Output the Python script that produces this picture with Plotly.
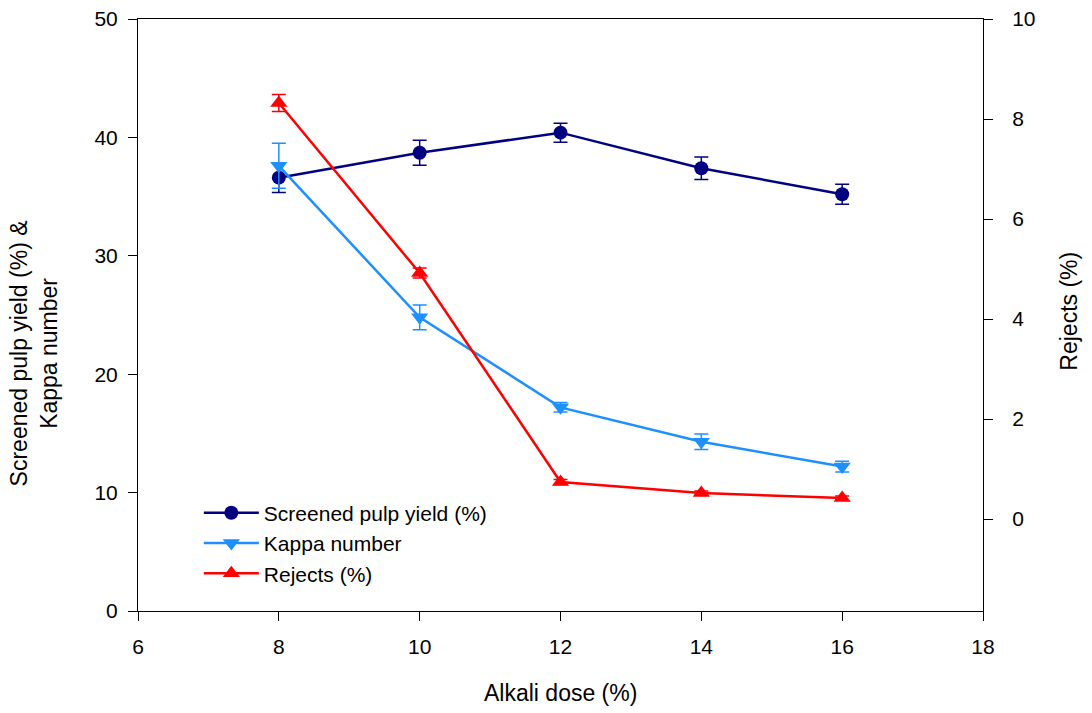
import plotly.graph_objects as go

# Alkali dose (%) for each cook
alkali = [8, 10, 12, 14, 16]

# Screened pulp yield (%) with standard deviations
yield_pct = [36.6, 38.7, 40.4, 37.4, 35.2]
yield_err = [1.25, 1.05, 0.8, 0.95, 0.85]

# Kappa number with standard deviations
kappa = [37.6, 24.8, 17.2, 14.3, 12.2]
kappa_err = [1.9, 1.05, 0.4, 0.65, 0.45]

# Rejects (%) with standard deviations (right axis)
rejects = [8.32, 4.92, 0.74, 0.52, 0.42]
rejects_err = [0.17, 0.1, 0.05, 0.04, 0.04]

FONT = "Liberation Sans, Arial, sans-serif"
NAVY = "#000080"
BLUE = "#1E8FFF"
RED = "#FF0000"

fig = go.Figure()

fig.add_trace(go.Scatter(
    x=alkali, y=yield_pct, name="Screened pulp yield (%)",
    mode="lines+markers",
    line=dict(color=NAVY, width=2.5),
    marker=dict(symbol="circle", size=14, color=NAVY),
    error_y=dict(type="data", array=yield_err, color=NAVY, thickness=1.5, width=7),
))
fig.add_trace(go.Scatter(
    x=alkali, y=kappa, name="Kappa number",
    mode="lines+markers",
    line=dict(color=BLUE, width=2.5),
    marker=dict(symbol="triangle-down", size=15, color=BLUE),
    error_y=dict(type="data", array=kappa_err, color=BLUE, thickness=1.5, width=7),
))
fig.add_trace(go.Scatter(
    x=alkali, y=rejects, name="Rejects (%)", yaxis="y2",
    mode="lines+markers",
    line=dict(color=RED, width=2.5),
    marker=dict(symbol="triangle-up", size=15, color=RED),
    error_y=dict(type="data", array=rejects_err, color=RED, thickness=1.5, width=7),
))

axis_common = dict(
    showgrid=False, zeroline=False, showline=True, linecolor="black", linewidth=1,
    ticks="outside", ticklen=9, tickcolor="black", tickwidth=1, automargin=False,
    tickfont=dict(family=FONT, size=21, color="black"),
)

fig.update_layout(
    width=1092, height=713,
    margin=dict(l=138, r=109, t=19, b=102, autoexpand=False),
    paper_bgcolor="white", plot_bgcolor="white",
    font=dict(family=FONT, color="black"),
    showlegend=True,
    legend=dict(
        x=0.072, y=0.2, xanchor="left", yanchor="top",
        bgcolor="rgba(0,0,0,0)", font=dict(family=FONT, size=21, color="black"),
        tracegroupgap=0, itemwidth=55,
    ),
    xaxis=dict(range=[6, 18], dtick=2, tick0=6, mirror=True, ticklabelstandoff=8,
               **axis_common),
    yaxis=dict(range=[0, 50], dtick=10, tick0=0, ticklabelstandoff=6, **axis_common),
    yaxis2=dict(range=[-1.84, 10], tickvals=[0, 2, 4, 6, 8, 10], overlaying="y",
                side="right", ticklabelstandoff=15, **axis_common),
    annotations=[
        dict(text="Alkali dose (%)", xref="paper", yref="paper", x=0.5, y=-0.138,
             xanchor="center", yanchor="middle", showarrow=False,
             font=dict(family=FONT, size=23, color="black")),
        dict(text="Screened pulp yield (%) &<br>Kappa number", xref="paper", yref="paper",
             x=-0.122, y=0.435, xanchor="center", yanchor="middle", textangle=-90,
             showarrow=False, font=dict(family=FONT, size=23, color="black")),
        dict(text="Rejects (%)", xref="paper", yref="paper", x=1.102, y=0.506,
             xanchor="center", yanchor="middle", textangle=-90, showarrow=False,
             font=dict(family=FONT, size=23, color="black")),
    ],
)

fig.write_html("out.html")
